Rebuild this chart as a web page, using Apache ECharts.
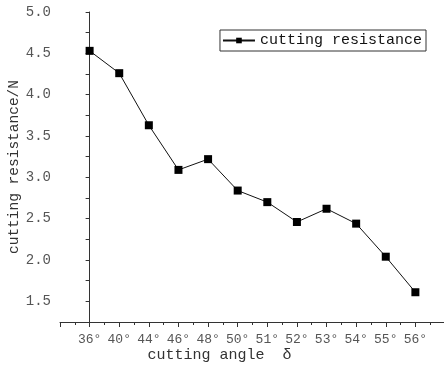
<!DOCTYPE html>
<html>
<head>
<meta charset="utf-8">
<script src="https://cdn.jsdelivr.net/npm/echarts@6/dist/echarts.min.js"></script>
<style>
  html, body { margin: 0; padding: 0; background: #fff; }
  #chart { width: 444px; height: 370px; }
</style>
</head>
<body>
<div id="chart"></div>
<script>
const angles = ['36°', '40°', '44°', '46°', '48°', '50°', '51°', '52°', '53°', '54°', '55°', '56°'];
const resistance = [4.53, 4.26, 3.63, 3.09, 3.22, 2.84, 2.70, 2.46, 2.62, 2.44, 2.04, 1.61];
const yLabels = [1.5, 2.0, 2.5, 3.0, 3.5, 4.0, 4.5, 5.0];

const font = '"Liberation Mono", "DejaVu Sans Mono", monospace';
let chart = echarts.init(document.getElementById('chart'));
chart.setOption({
    animation: false,
    grid: {
      left: 60,
      right: -1,
      top: 12,
      bottom: 48,
      containLabel: false,
      outerBoundsMode: 'none'
    },
    legend: {
      right: 18,
      top: 30,
      padding: [3, 4, 3, 2],
      borderColor: '#333',
      borderWidth: 1,
      itemWidth: 32,
      itemHeight: 7,
      itemGap: 0,
      textStyle: { fontFamily: font, fontSize: 15, color: '#111' },
      data: ['cutting resistance']
    },
    xAxis: {
      type: 'value',
      min: -1,
      max: 12,
      interval: 1,
      name: 'cutting angle  δ',
      nameLocation: 'middle',
      nameGap: 26,
      nameMoveOverlap: false,
      nameTextStyle: { fontFamily: font, fontSize: 15, color: '#333', padding: [0, 66, 0, 0] },
      splitLine: { show: false },
      axisLine: { lineStyle: { color: '#333' } },
      axisTick: { length: 5, lineStyle: { color: '#333' } },
      minorTick: { show: true, splitNumber: 2, length: 3, lineStyle: { color: '#333' } },
      axisLabel: {
        fontFamily: font, fontSize: 13, color: '#555', margin: 11,
        showMinLabel: true, showMaxLabel: true,
        formatter: (v)=>{
          return angles[v] || '';
        }
      }
    },
    yAxis: {
      type: 'value',
      min: 1.25,
      max: 5.0,
      interval: 0.25,
      name: 'cutting resistance/N',
      nameLocation: 'middle',
      nameGap: 38,
      nameMoveOverlap: false,
      nameTextStyle: { fontFamily: font, fontSize: 14.5, color: '#333' },
      splitLine: { show: false },
      axisLine: { show: true, lineStyle: { color: '#333' } },
      axisTick: { show: true, length: 4, lineStyle: { color: '#333' } },
      axisLabel: {
        fontFamily: font, fontSize: 14, color: '#555', margin: 9,
        formatter: (v)=>{
          let hit = yLabels.find((l)=>Math.abs(l - v) < 1e-6);
          return hit === undefined ? '' : hit.toFixed(1);
        }
      }
    },
    series: [
      {
        name: 'cutting resistance',
        type: 'line',
        data: resistance.map((v, i)=>[i, v]),
        symbol: 'rect',
        symbolSize: 8,
        lineStyle: { color: '#111', width: 1 },
        itemStyle: { color: '#000' }
      }
    ]
  });
</script>
</body>
</html>
